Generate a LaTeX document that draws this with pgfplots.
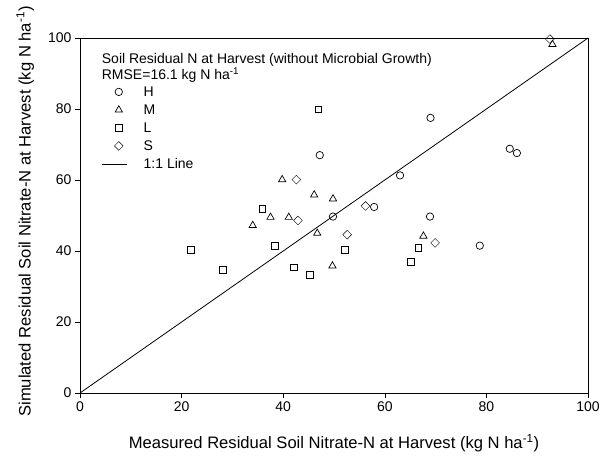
\documentclass[border=0pt]{standalone}
\usepackage{fontspec}
\setmainfont{Liberation Sans}
\usepackage{pgfplots}
\pgfplotsset{compat=1.18}
\pgfplotsset{
  markleg/.style={legend image code/.code={\draw[##1] plot coordinates {(16.5pt,0pt)};}},
  lineleg/.style={legend image code/.code={\draw[##1] (0pt,0pt) -- (25pt,0pt);}},
}
\begin{document}
\begin{tikzpicture}[x=1pt,y=1pt]
\begin{axis}[
  at={(0,0)}, anchor=south west,
  scale only axis, width=508pt, height=355pt,
  xmin=0, xmax=100, ymin=0, ymax=100,
  xtick={0,20,...,100}, ytick={0,20,...,100},
  tick align=outside, tick pos=left,
  major tick length=5pt,
  tick style={black, line width=0.6pt},
  axis line style={black, line width=0.8pt},
  ticklabel style={font=\fontsize{14}{16}\selectfont},
  /pgf/number format/assume math mode=true,
  clip=false,
  xlabel={Measured Residual Soil Nitrate-N at Harvest (kg N ha\textsuperscript{-1})},
  ylabel={Simulated Residual Soil Nitrate-N at Harvest (kg N ha\textsuperscript{-1})},
  label style={font=\fontsize{16.6}{19}\selectfont},
  xlabel style={at={(axis description cs:0.5,-0.142)}, anchor=center},
  ylabel style={at={(axis description cs:-0.108,0.511)}, anchor=center},
  legend style={draw=none, fill=none, inner sep=0pt,
    at={(axis description cs:0.0427,0.8656)}, anchor=north west,
    font=\fontsize{14}{16}\selectfont,
    nodes={inner sep=0pt, text height=11pt, text depth=1pt},
    row sep=6pt,
    /tikz/every odd column/.append style={column sep=16pt}},
  legend cell align=left,
  mark options={solid, line width=0.7pt, fill=none},
]
\addplot[only marks, mark=o, mark size=3.7pt, black, markleg]
  coordinates {(47.2,67)(69,77.5)(63,61.3)(57.9,52.4)(49.8,49.7)(68.9,49.7)(84.6,68.8)(86,67.6)(78.7,41.5)};
\addlegendentry{H}
\addplot[only marks, mark=triangle, mark size=4.2pt, black, markleg]
  coordinates {(39.8,60.1)(46.1,55.8)(49.8,54.7)(37.5,49.5)(41.1,49.5)(34,47.2)(46.7,45)(67.6,44.2)(49.7,35.8)(93,98.2)};
\addlegendentry{M}
\addplot[only marks, mark=square, mark size=3.4pt, black, markleg]
  coordinates {(46.9,79.9)(35.9,51.8)(21.8,40.3)(38.4,41.5)(52.2,40.4)(66.6,40.9)(28.1,34.7)(42.1,35.4)(45.2,33.2)(65.2,37)};
\addlegendentry{L}
\addplot[only marks, mark=square, mark size=3.1pt, mark options={rotate=45}, black, markleg]
  coordinates {(42.6,60.1)(56.2,52.7)(42.9,48.6)(52.6,44.6)(69.9,42.3)(92.5,99.7)};
\addlegendentry{S}
\addplot[black, line width=0.8pt, no marks, lineleg]
  coordinates {(0,0)(100,100)};
\addlegendentry{1:1 Line}
\node[anchor=base west, font=\fontsize{14}{16}\selectfont, inner sep=0pt] at (axis cs:4.27,92.7) {Soil Residual N at Harvest (without Microbial Growth)};
\node[anchor=base west, font=\fontsize{14}{16}\selectfont, inner sep=0pt] at (axis cs:4.27,88.2) {RMSE=16.1 kg N ha\textsuperscript{-1}};
\end{axis}
\pgfresetboundingbox
\path (-80pt,-67pt) rectangle (527pt,393pt);
\end{tikzpicture}
\end{document}
